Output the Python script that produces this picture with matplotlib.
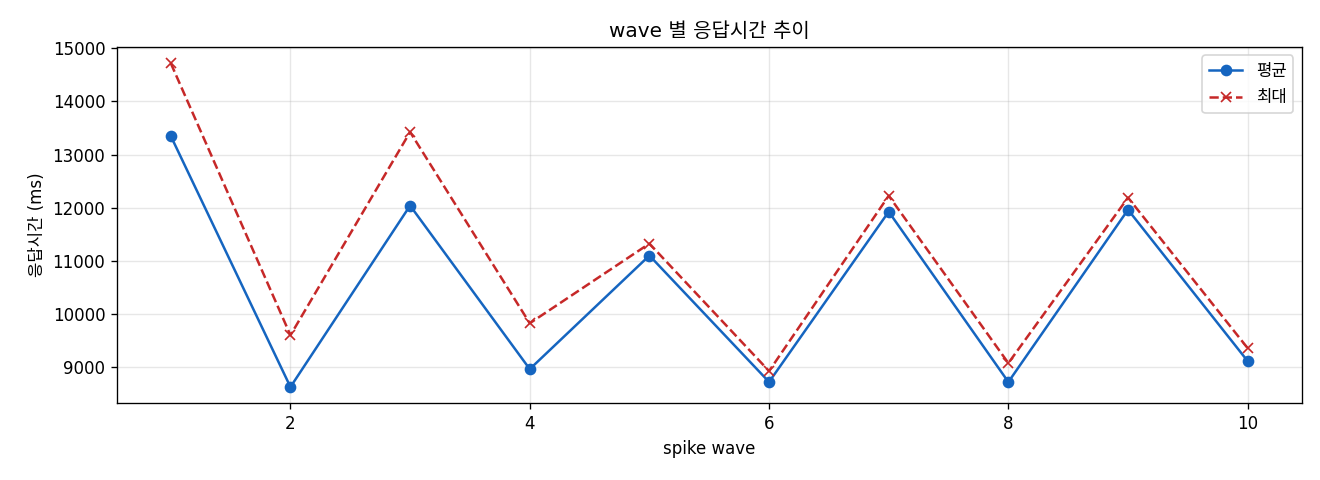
import matplotlib
matplotlib.use("Agg")
import matplotlib.pyplot as plt

plt.rcParams['font.family'] = ['DejaVu Sans', 'Noto Sans CJK KR']
plt.rcParams['axes.unicode_minus'] = False

waves = [1, 2, 3, 4, 5, 6, 7, 8, 9, 10]
mean_ms = [13350, 8625, 12040, 8962, 11100, 8720, 11925, 8720, 11962, 9112]
max_ms = [14720, 9600, 13425, 9825, 11325, 8925, 12225, 9075, 12190, 9356]

fig, ax = plt.subplots(figsize=(11, 4), dpi=120)
ax.plot(waves, mean_ms, marker='o', color='#1565C0', linewidth=1.5, label='평균')
ax.plot(waves, max_ms, marker='x', linestyle='--', color='#C62828', linewidth=1.5, label='최대')

ax.set_title("wave 별 응답시간 추이", fontsize=12)
ax.set_xlabel("spike wave")
ax.set_ylabel("응답시간 (ms)")
ax.grid(True, alpha=0.3)
ax.legend(loc='upper right')

plt.subplots_adjust(left=0.0886, right=0.986, top=0.902, bottom=0.160)
plt.savefig("out.png", dpi=120)
